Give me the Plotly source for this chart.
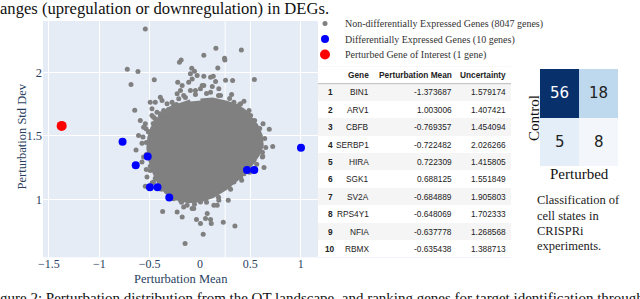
import plotly.graph_objects as go

# ---------------- scatter data ----------------
# dense core of non-DEG cloud (outline of the solid region)
core_mean = [0.005, 0.125, 0.254, 0.354, 0.434, 0.503, 0.563, 0.603, 0.613, 0.583,
             0.523, 0.454, 0.364, 0.254, 0.125, 0.005, -0.115, -0.234, -0.334, -0.404,
             -0.454, -0.494, -0.513, -0.503, -0.474, -0.424, -0.354, -0.274, -0.184, -0.095]
core_std = [1.780, 1.787, 1.764, 1.740, 1.701, 1.638, 1.575, 1.504, 1.425, 1.362,
            1.291, 1.228, 1.157, 1.087, 1.024, 0.992, 0.984, 1.008, 1.055, 1.126,
            1.213, 1.307, 1.402, 1.488, 1.559, 1.622, 1.677, 1.724, 1.748, 1.772]

# individually visible non-DEG points
gray_mean = [-0.543, -0.722, -0.616, -0.685, -0.648, -0.454, -0.204, -0.187, 0.038, 0.158,
             0.411, 0.244, 0.247, 0.177, -0.082, -0.055, -0.095, 0.038, 0.132, 0.155,
             0.254, 0.324, 0.540, -0.221, -0.177, -0.112, -0.078, -0.028, 0.038, 0.105,
             0.005, -0.045, -0.095, -0.194, -0.227, -0.162, -0.211, -0.277, -0.327, -0.394,
             -0.377, -0.444, -0.494, -0.477, -0.427, -0.461, -0.394, -0.361, -0.294, -0.261,
             0.122, 0.187, 0.105, 0.314, 0.437, 0.404, 0.487, 0.503, 0.022, 0.204,
             0.337, 0.371,
             -0.543, -0.536, -0.610, -0.566, -0.576, -0.635, -0.560, -0.576, -0.533, -0.543,
             -0.477, -0.477, -0.444, -0.510, -0.494, -0.526, -0.461, -0.593, -0.560,
             0.626, 0.688, 0.722, 0.636, 0.620, 0.603, 0.620, 0.586, 0.553, 0.520,
             0.536, 0.404, 0.337, 0.437, 0.287,
             -0.371, -0.177, -0.148, 0.032, -0.035, 0.005, 0.055, 0.105, 0.112, 0.231,
             0.347, 0.281, 0.171, -0.162, -0.078, -0.227, -0.128, -0.062, 0.072, 0.138,
             -0.095, -0.194, -0.261, 0.005, 0.187,
             -0.145, -0.045, 0.065, 0.184, 0.294, 0.394, 0.474, 0.543, 0.593, 0.643,
             0.653, 0.623, 0.563, 0.494, 0.414, 0.304, 0.184, 0.065, -0.055, -0.184,
             -0.294, -0.384, -0.444, -0.494, -0.533, -0.533, -0.513, -0.464, -0.394, -0.314,
             -0.234]
gray_std = [2.344, 2.026, 2.008, 1.906, 1.702, 1.943, 2.081, 2.100, 2.136, 2.191,
            2.179, 2.113, 2.100, 2.037, 2.034, 2.010, 1.990, 1.971, 1.971, 1.929,
            1.939, 1.937, 1.945, 1.924, 1.898, 1.924, 1.950, 1.976, 1.898, 1.963,
            1.872, 1.858, 1.858, 1.858, 1.832, 1.819, 1.793, 1.766, 1.754, 1.806,
            1.780, 1.766, 1.766, 1.714, 1.687, 1.648, 1.675, 1.701, 1.714, 1.740,
            1.890, 1.872, 1.845, 1.827, 1.774, 1.754, 1.701, 1.661, 1.898, 1.819,
            1.766, 1.727,
            1.596, 1.557, 1.504, 1.491, 1.443, 1.389, 1.333, 1.294, 1.234, 1.102,
            1.128, 1.661, 1.635, 1.530, 1.228, 1.176, 1.136, 1.622, 1.569,
            1.596, 1.552, 1.416, 1.250, 1.333, 1.439, 1.372, 1.491, 1.583, 1.622,
            1.307, 1.176, 1.136, 1.202, 1.097,
            0.903, 0.861, 0.650, 0.724, 0.840, 0.809, 0.848, 0.840, 0.809, 0.819,
            0.790, 0.992, 0.953, 0.939, 0.927, 0.900, 0.953, 0.927, 0.887, 0.953,
            0.992, 0.992, 1.005, 0.979, 0.992,
            1.803, 1.827, 1.835, 1.819, 1.795, 1.748, 1.685, 1.622, 1.559, 1.480,
            1.409, 1.339, 1.276, 1.213, 1.150, 1.079, 1.016, 0.976, 0.961, 0.976,
            1.016, 1.079, 1.165, 1.260, 1.354, 1.449, 1.535, 1.598, 1.654, 1.709,
            1.748]

deg_mean = [-0.769, -0.638, -0.519, -0.497, -0.422, -0.305, 0.467, 0.539, 1.003]
deg_std = [1.454, 1.269, 1.338, 1.094, 1.094, 1.013, 1.232, 1.232, 1.407]

goi_mean = [-1.373687]
goi_std = [1.579174]

ref_line_x = 0.25

# ---------------- table data ----------------
table_rank = [1, 2, 3, 4, 5, 6, 7, 8, 9, 10]
table_gene = ["BIN1", "ARV1", "CBFB", "SERBP1", "HIRA", "SGK1", "SV2A", "RPS4Y1", "NFIA", "RBMX"]
table_mean = [-1.373687, 1.003006, -0.769357, -0.722482, 0.722309, 0.688125,
              -0.684889, -0.648069, -0.637778, -0.635438]
table_unc = [1.579174, 1.407421, 1.454094, 2.026266, 1.415805, 1.551849,
             1.905803, 1.702333, 1.268568, 1.388713]
table_header = ["", "Gene", "Perturbation Mean", "Uncertainty"]

# ---------------- confusion matrix data ----------------
cm_counts = [[56, 18], [5, 8]]

SERIF = "Liberation Serif"
SANS = "Liberation Sans"
TXT = "#2a3f5f"

fig = go.Figure()

# ---- scatter ----
fig.add_trace(go.Scatter(x=core_mean, y=core_std, mode="lines", fill="toself",
                         fillcolor="#808080", line=dict(color="#808080", width=4),
                         showlegend=False, hoverinfo="skip"))
fig.add_trace(go.Scatter(x=gray_mean, y=gray_std, mode="markers",
                         marker=dict(color="#808080", size=5),
                         name="Non-differentially Expressed Genes (8047 genes)",
                         legend="legend"))
fig.add_trace(go.Scatter(x=deg_mean, y=deg_std, mode="markers",
                         marker=dict(color="blue", size=8),
                         name="Differentially Expressed Genes (10 genes)",
                         legend="legend2"))
fig.add_trace(go.Scatter(x=goi_mean, y=goi_std, mode="markers",
                         marker=dict(color="red", size=10),
                         name="Perturbed Gene of Interest (1 gene)",
                         legend="legend3"))

# ---- table row backgrounds ----
n_rows = len(table_gene) + 1
row_edges = [i - 0.5 for i in range(n_rows + 1)]
row_shade = [[0]] + [[1 if r % 2 == 1 else 0] for r in table_rank]
fig.add_trace(go.Heatmap(x=[0, 1], y=row_edges, z=row_shade, xaxis="x3", yaxis="y3",
                         colorscale=[[0, "#ffffff"], [1, "#f5f5f5"]], zmin=0, zmax=1,
                         showscale=False, hoverinfo="skip"))

# ---- confusion matrix ----
fig.add_trace(go.Heatmap(z=cm_counts, x=[0, 1], y=[0, 1], xaxis="x2", yaxis="y2",
                         colorscale=[[0, "#e3eef9"], [3 / 51, "#f3f7fc"],
                                     [13 / 51, "#bed8ed"], [1, "#08306b"]],
                         zmin=5, zmax=56, showscale=False, hoverinfo="skip"))

annotations = []
# confusion numbers
for i, row in enumerate(cm_counts):
    for j, v in enumerate(row):
        annotations.append(dict(x=j, y=i, xref="x2", yref="y2", text=str(v), showarrow=False,
                                xanchor="center", yanchor="middle",
                                font=dict(family="DejaVu Sans", size=15,
                                          color="white" if v > 30 else "#222")))

# table text
TFS = 8.3
col_x = [0.0622, 0.2746, 0.7047, 0.9819]
col_anchor = ["center", "right", "right", "right"]
for c, h in enumerate(table_header):
    if h:
        annotations.append(dict(x=col_x[c], y=0, xref="x3", yref="y3", text="<b>%s</b>" % h,
                                xanchor=col_anchor[c], yanchor="middle", showarrow=False,
                                font=dict(family=SANS, size=TFS, color="#222")))
for r in range(len(table_gene)):
    vals = ["<b>%d</b>" % table_rank[r], table_gene[r],
            "%.6f" % table_mean[r], "%.6f" % table_unc[r]]
    for c, t in enumerate(vals):
        annotations.append(dict(x=col_x[c], y=r + 1, xref="x3", yref="y3", text=t,
                                xanchor=col_anchor[c], yanchor="middle", showarrow=False,
                                font=dict(family=SANS, size=TFS, color="#222")))

def py(px):
    return 1 - px / 299.0

def pxx(px):
    return px / 640.0

annotations += [
    dict(x=0.5, y=py(279), xref="x domain", yref="paper", text="Perturbation Mean",
         xanchor="center", yanchor="middle",
         showarrow=False, font=dict(family=SERIF, size=12.5, color=TXT)),
    dict(x=pxx(21), y=py(136.5), xref="paper", yref="paper", text="Perturbation Std Dev",
         xanchor="center", yanchor="middle",
         textangle=-90, showarrow=False, font=dict(family=SERIF, size=12.5, color=TXT)),
    dict(x=0, y=py(8.5), xref="paper", yref="paper", xanchor="left", yanchor="middle",
         text="anges (upregulation or downregulation) in DEGs.", showarrow=False,
         xshift=-2, font=dict(family=SERIF, size=16.6, color="#111")),
    dict(x=0, y=py(287.5), xref="paper", yref="paper", xanchor="left", yanchor="top",
         text="gure 2: Perturbation distribution from the OT landscape, and ranking genes for target identification through",
         showarrow=False, xshift=-2, font=dict(family=SERIF, size=15, color="#111")),
    dict(x=pxx(534), y=py(118), xref="paper", yref="paper", text="Control", textangle=-90,
         xanchor="center", yanchor="middle",
         showarrow=False, font=dict(family=SERIF, size=15, color="#111")),
    dict(x=pxx(579), y=py(174), xref="paper", yref="paper", text="Perturbed",
         xanchor="center", yanchor="middle",
         showarrow=False, font=dict(family=SERIF, size=15, color="#111")),
]
caption = ["Classification of", "cell states in", "CRISPRi", "experiments."]
cap_y = [200, 215.5, 231, 246]
for t, yy in zip(caption, cap_y):
    annotations.append(dict(x=pxx(537), y=py(yy), xref="paper", yref="paper", xanchor="left",
                            yanchor="middle", text=t, showarrow=False, xshift=-2,
                            font=dict(family=SERIF, size=12.5, color="#222")))

legend_common = dict(xanchor="left", yanchor="middle", bgcolor="rgba(0,0,0,0)",
                     font=dict(family=SERIF, size=10, color="#333"), itemwidth=30)

fig.update_layout(
    width=640, height=299, margin=dict(l=0, r=0, t=0, b=0, autoexpand=False),
    paper_bgcolor="white", plot_bgcolor="#E5ECF6",
    font=dict(family=SERIF, color=TXT),
    xaxis=dict(domain=[43 / 640, 318 / 640], range=[-1.559, 1.172], dtick=0.5, tick0=0,
               gridcolor="white", zeroline=True, zerolinecolor="#E5ECF6", zerolinewidth=1,
               showline=False, ticks="", ticklabelstandoff=-2, automargin=False,
               tickfont=dict(family=SERIF, size=12, color=TXT)),
    yaxis=dict(domain=[py(257.3), py(21)], range=[0.542, 2.407], dtick=0.5, tick0=0,
               gridcolor="white", zeroline=False, ticks="", automargin=False,
               tickfont=dict(family=SERIF, size=12.5, color=TXT)),
    xaxis2=dict(domain=[540 / 640, 618 / 640], range=[-0.5, 1.5], visible=False, anchor="y2"),
    yaxis2=dict(domain=[py(166), py(69)], range=[1.5, -0.5], visible=False, anchor="x2"),
    xaxis3=dict(domain=[318 / 640, 511 / 640], range=[0, 1], visible=False, anchor="y3"),
    yaxis3=dict(domain=[py(257.7), py(66.3)], range=[10.5, -0.5], visible=False, anchor="x3"),
    legend=dict(x=pxx(305), y=py(23.5), **legend_common),
    legend2=dict(x=pxx(305), y=py(39), **legend_common),
    legend3=dict(x=pxx(305), y=py(54.5), **legend_common),
    annotations=annotations,
    shapes=[
        dict(type="line", xref="x", yref="y domain", x0=ref_line_x, x1=ref_line_x, y0=0, y1=1,
             line=dict(color="white", width=1), layer="below"),
        dict(type="line", xref="x3", yref="y3", x0=0, x1=1, y0=0.5, y1=0.5,
             line=dict(color="#bbbbbb", width=1)),
    ],
    showlegend=True,
)

fig.write_html("out.html", config={"displayModeBar": False},
               post_script="document.body.style.margin='0px';")
